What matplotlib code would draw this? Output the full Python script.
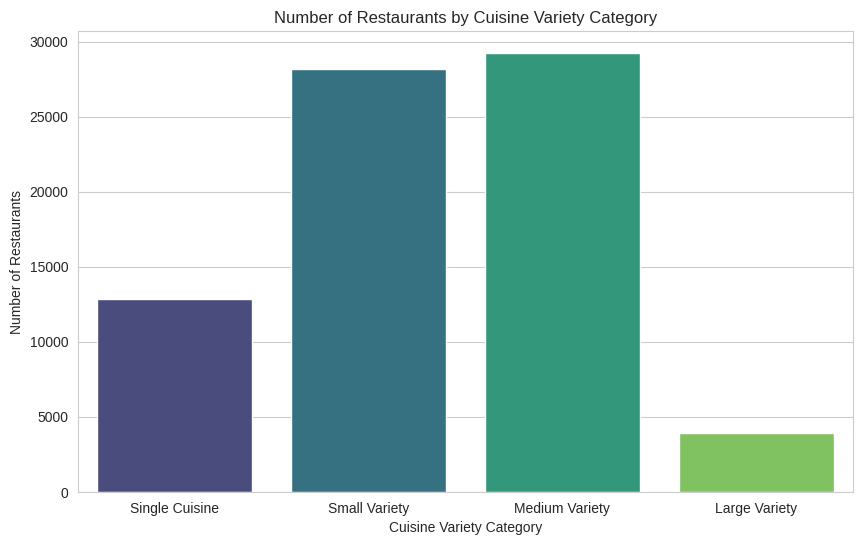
import matplotlib
matplotlib.use("Agg")
import matplotlib.pyplot as plt
import pandas as pd
import seaborn as sns

categories = ["Single Cuisine", "Small Variety", "Medium Variety", "Large Variety"]
counts = [12850, 28180, 29250, 3910]

sns.set_style("whitegrid")
plt.rcParams["font.family"] = ["Liberation Sans", "DejaVu Sans"]

df = pd.DataFrame({"category": categories, "count": counts})

fig = plt.figure(figsize=(8.63, 5.45), dpi=100)
ax = fig.add_axes([78 / 863, 1 - 492 / 545, (853 - 78) / 863, (492 - 31) / 545])

sns.barplot(data=df, x="category", y="count", hue="category",
            palette="viridis", legend=False, ax=ax)

ax.set_title("Number of Restaurants by Cuisine Variety Category")
ax.set_xlabel("Cuisine Variety Category")
ax.set_ylabel("Number of Restaurants")

fig.savefig("out.png", dpi=100)
